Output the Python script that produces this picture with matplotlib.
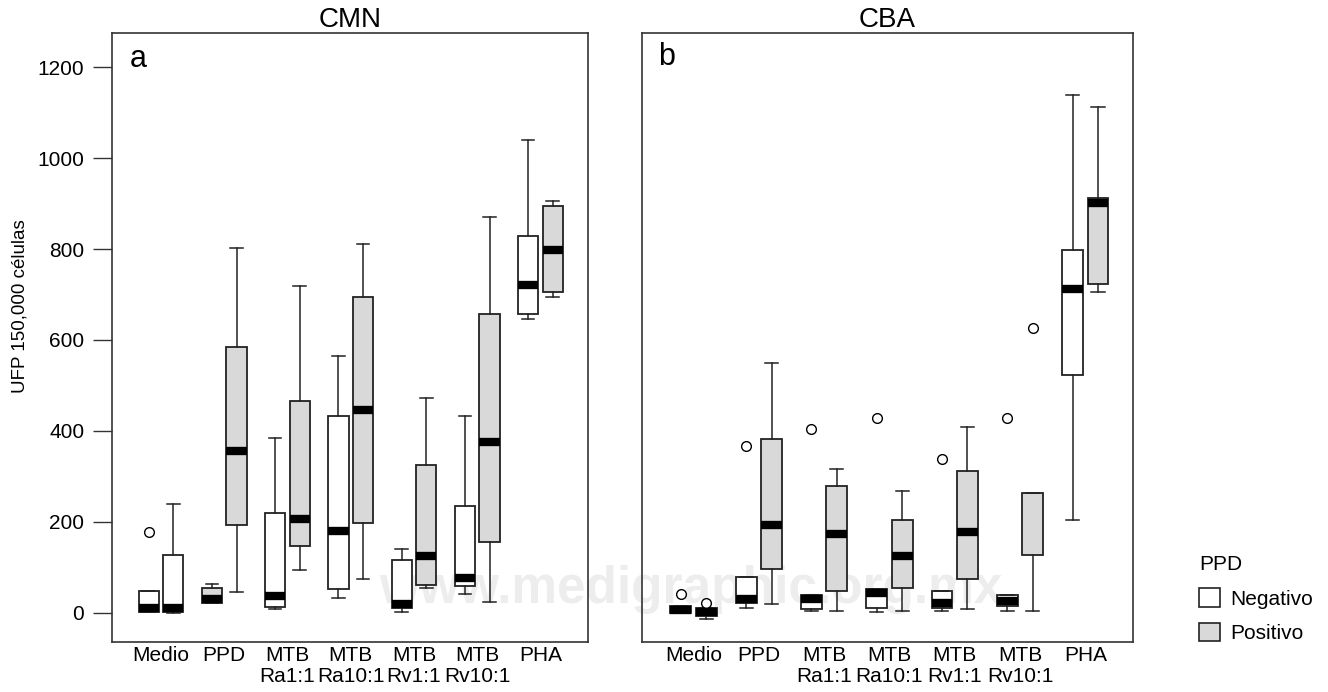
import matplotlib
matplotlib.use('Agg')
import matplotlib.pyplot as plt
from matplotlib.patches import Patch
from matplotlib import font_manager

plt.rcParams['font.family'] = ['Liberation Sans', 'DejaVu Sans']

categorias = ['Medio', 'PPD', 'MTB\nRa1:1', 'MTB\nRa10:1', 'MTB\nRv1:1', 'MTB\nRv10:1', 'PHA']
grupos = ['Negativo', 'Positivo']

# CMN (a) - 14 cajas, dos por estimulo
cmn_grupo = ['N', 'N', 'P', 'P', 'N', 'P', 'N', 'P', 'N', 'P', 'N', 'P', 'N', 'P']
cmn_whislo = [1, 0, 22, 46, 9, 94, 33, 75, 2, 55, 42, 24, 646, 694]
cmn_q1 = [1, 1, 22, 193, 13, 147, 53, 198, 11, 62, 59, 156, 657, 705]
cmn_med = [10, 10, 30, 356, 36, 207, 180, 446, 20, 125, 76, 376, 721, 798]
cmn_q3 = [48, 127, 55, 584, 220, 466, 433, 695, 116, 325, 235, 657, 829, 895]
cmn_whishi = [48, 240, 64, 802, 384, 719, 565, 811, 141, 472, 433, 870, 1040, 906]
cmn_fliers = {0: [178]}

# CBA (b)
cba_grupo = ['N', 'P', 'N', 'P', 'N', 'P', 'N', 'P', 'N', 'P', 'N', 'P', 'N', 'P']
cba_whislo = [-1, -13, 11, 20, 4, 4, 2, 4, 4, 9, 4, 4, 204, 706]
cba_q1 = [-1, -7, 22, 97, 9, 48, 11, 55, 11, 75, 15, 127, 523, 723]
cba_med = [7, 2, 30, 193, 30, 174, 44, 125, 21, 178, 27, 229, 712, 902]
cba_q3 = [16, 11, 79, 382, 40, 279, 53, 204, 48, 312, 40, 264, 798, 912]
cba_whishi = [16, 11, 79, 550, 40, 316, 53, 268, 48, 409, 40, 264, 1138, 1112]
cba_fliers = {0: [42], 1: [22], 2: [367], 4: [404], 6: [429], 8: [338], 10: [429], 11: [626]}

cores = {'N': 'white', 'P': '#d9d9d9'}
linha = '#222222'

posicoes = [k + d for k in range(1, 8) for d in (-0.195, 0.195)]


def desenhar(ax, wlo, q1, med, q3, whi, fliers, grupo):
    stats = []
    for i in range(len(med)):
        stats.append(dict(whislo=wlo[i], q1=q1[i], med=med[i], q3=q3[i],
                          whishi=whi[i], fliers=fliers.get(i, [])))
    bp = ax.bxp(stats, positions=posicoes, widths=0.32, patch_artist=True,
                capwidths=0.2, manage_ticks=False,
                boxprops=dict(edgecolor=linha, linewidth=1.3),
                medianprops=dict(color='black', linewidth=6, solid_capstyle='butt'),
                whiskerprops=dict(color=linha, linewidth=1.1),
                capprops=dict(color=linha, linewidth=1.1),
                flierprops=dict(marker='o', markerfacecolor='white',
                                markeredgecolor='black', markersize=7,
                                markeredgewidth=1.0))
    for caixa, g in zip(bp['boxes'], grupo):
        caixa.set_facecolor(cores[g])
    ax.set_xticks(range(1, 8))
    ax.set_xticklabels(categorias, fontsize=15, linespacing=1.15)
    ax.tick_params(axis='x', length=0, pad=3)
    ax.set_ylim(-64, 1275)
    ax.set_facecolor('none')
    for s in ax.spines.values():
        s.set_color('#333333')
        s.set_linewidth(1.2)
    return bp


fig = plt.figure(figsize=(13.28, 6.92), dpi=100)

# marca de agua, detras de los paneles
nombres = {f.name for f in font_manager.fontManager.ttflist}
if 'Liberation Sans Narrow' in nombres:
    fig.text(691 / 1328, 1 - 603 / 692, 'www.medigraphic.org.mx', fontsize=44,
             family='Liberation Sans Narrow', weight='bold', color='#ededed',
             ha='center', va='baseline', zorder=-1)
else:
    fig.text(691 / 1328, 1 - 603 / 692, 'www.medigraphic.org.mx', fontsize=37,
             weight='bold', color='#ededed', ha='center', va='baseline', zorder=-1)

ax_a = fig.add_axes([0.0843, 0.0723, 0.3584, 0.880])
ax_b = fig.add_axes([0.4834, 0.0723, 0.3697, 0.880])

desenhar(ax_a, cmn_whislo, cmn_q1, cmn_med, cmn_q3, cmn_whishi, cmn_fliers, cmn_grupo)
bp_b = desenhar(ax_b, cba_whislo, cba_q1, cba_med, cba_q3, cba_whishi, cba_fliers, cba_grupo)
# la mediana de CBA Rv10:1 positivo casi no se ve en el original
bp_b['medians'][11].set_visible(False)

ax_a.set_xlim(0.225, 7.75)
ax_b.set_xlim(0.21, 7.73)

ax_a.set_yticks(range(0, 1201, 200))
ax_a.tick_params(axis='y', length=14, width=1, pad=6, labelsize=15, color='#333333')
ax_a.set_ylabel('UFP 150,000 células', fontsize=13.5)
ax_a.yaxis.set_label_coords(-0.176, 0.552)
ax_b.tick_params(axis='y', left=False, labelleft=False)

ax_a.set_title('CMN', fontsize=20, pad=3)
ax_b.set_title('CBA', fontsize=20, pad=3)
ax_a.text(0.038, 0.958, 'a', transform=ax_a.transAxes, fontsize=22, ha='left', va='center')
ax_b.text(0.033, 0.96, 'b', transform=ax_b.transAxes, fontsize=22, ha='left', va='center')

handles = [Patch(facecolor=cores['N'], edgecolor=linha, linewidth=1.2),
           Patch(facecolor=cores['P'], edgecolor=linha, linewidth=1.2)]
fig.legend(handles, grupos, title='PPD', loc='upper left',
           bbox_to_anchor=(1199 / 1328, 1 - 555 / 692), frameon=False,
           fontsize=15, title_fontsize=15, alignment='left',
           handlelength=1.0, handleheight=1.0, handletextpad=0.5,
           labelspacing=0.68, borderpad=0, borderaxespad=0)

fig.savefig('out.png', dpi=100)
